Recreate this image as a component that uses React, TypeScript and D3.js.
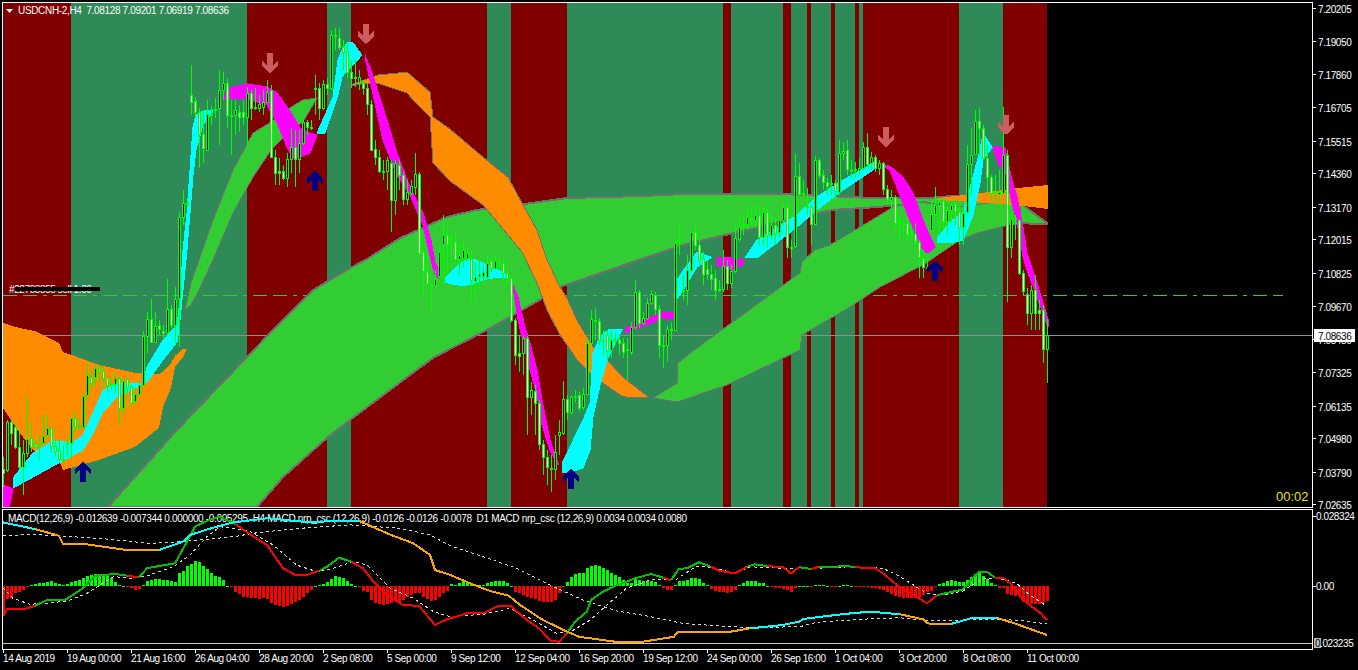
import React from "react";
import * as d3 from "d3";

// ---- price data: values in pips (0.0001) above 7.0000, one per 4h bar ----
const opens = [
389,385,555,537,467,396,445,498,477,477,
481,509,534,470,452,424,477,481,569,541,
537,651,714,714,743,736,711,686,690,711,
605,707,679,629,654,686,860,920,838,898,
877,870,955,898,994,1281,1327,1713,1691,1653,
1575,1518,1642,1660,1667,1730,1755,1642,1642,1653,
1653,1635,1720,1670,1667,1670,1688,1730,1493,1444,
1444,1419,1486,1529,1486,1543,1617,1599,1734,1737,
1667,1752,1737,1925,1914,1883,1865,1794,1776,1759,
1755,1737,1681,1522,1493,1444,1444,1472,1341,1465,
1429,1345,1366,1387,1433,1157,1086,1044,1040,1072,
1185,1217,1189,1192,1132,1136,1136,1132,1054,1072,
1072,1068,1125,1100,1122,1118,1083,1065,916,799,
799,852,644,665,622,477,431,389,389,509,
516,637,591,647,651,608,654,835,916,913,
845,863,810,845,849,835,810,803,891,1015,
906,923,976,1005,955,828,828,881,881,1196,
1022,1022,1093,1228,1182,1132,1097,1079,1065,1022,
1026,1107,1047,1090,1203,1252,1256,1277,1270,1288,
1210,1298,1217,1252,1228,1270,1316,1175,1178,1426,
1362,1320,1316,1256,1483,1429,1405,1398,1401,1369,
1507,1518,1444,1451,1447,1454,1529,1472,1493,1454,
1472,1380,1341,1352,1263,1256,1260,1221,1221,1192,
1136,1104,1235,1291,1323,1337,1267,1306,1327,1298,
1245,1298,1468,1504,1621,1596,1490,1422,1369,1362,
1366,1500,1175,1277,1270,1083,1008,941,1022,952,952,813];
const closes = [
375,555,516,467,396,445,495,467,467,481,
506,534,470,452,424,421,481,569,541,537,
647,721,693,746,736,711,686,690,711,605,
700,679,622,654,686,860,920,838,895,884,
870,955,898,991,1281,1330,1330,1688,1653,1575,
1525,1645,1645,1663,1730,1755,1642,1638,1660,1635,
1635,1720,1667,1667,1681,1688,1723,1493,1437,1437,
1419,1486,1529,1486,1543,1617,1599,1596,1737,1667,
1752,1737,1925,1922,1883,1865,1794,1773,1773,1776,
1737,1681,1518,1493,1444,1440,1483,1341,1472,1429,
1345,1369,1391,1433,1153,1090,1047,1040,1061,1157,
1217,1185,1192,1132,1146,1164,1153,1058,1068,1079,
1086,1118,1100,1125,1118,1083,1065,916,792,789,
852,644,668,622,477,431,396,392,449,520,
637,591,644,644,605,654,835,920,913,845,
842,810,845,849,835,803,814,891,1015,906,
923,976,1008,955,828,824,884,884,1189,1199,
1019,1093,1228,1182,1132,1079,1079,1061,1022,1026,
1107,1047,1090,1206,1245,1256,1281,1274,1288,1210,
1298,1217,1252,1224,1270,1316,1175,1171,1426,1362,
1366,1316,1256,1483,1429,1405,1391,1401,1373,1507,
1514,1451,1447,1447,1454,1529,1468,1493,1454,1472,
1380,1345,1352,1260,1260,1252,1221,1217,1196,1139,
1104,1100,1291,1323,1334,1267,1306,1323,1302,1245,
1295,1468,1500,1621,1596,1490,1422,1366,1366,1369,
1500,1175,1274,1274,1083,1019,941,1022,941,941,814,864];
const highs = [
431,562,562,544,527,491,644,555,491,509,
580,580,537,491,491,474,502,573,591,562,
654,764,739,757,757,750,711,711,729,714,
704,714,686,675,704,877,945,991,945,916,
898,1061,969,1033,1299,1376,1341,1819,1706,1667,
1660,1695,1674,1702,1801,1794,1773,1695,1695,1677,
1695,1741,1730,1737,1713,1730,1766,1748,1518,1490,
1465,1507,1596,1589,1589,1624,1624,1624,1783,1755,
1766,1773,1943,1950,1950,1907,1897,1837,1837,1801,
1766,1755,1695,1553,1518,1483,1493,1483,1483,1483,
1440,1412,1412,1507,1440,1164,1146,1047,1093,1182,
1288,1242,1217,1228,1182,1199,1171,1164,1122,1129,
1111,1146,1136,1146,1136,1136,1100,1072,923,863,
863,860,697,686,633,491,456,438,509,562,
700,651,651,668,661,675,852,952,959,923,
881,881,881,874,863,852,852,909,1058,1022,
945,994,1022,1015,969,863,898,909,1199,1252,
1075,1146,1235,1252,1199,1157,1129,1111,1093,1058,
1164,1129,1111,1252,1288,1277,1323,1306,1323,1323,
1313,1323,1288,1277,1288,1323,1323,1199,1504,1472,
1412,1383,1323,1497,1490,1447,1419,1429,1412,1553,
1546,1553,1483,1476,1490,1546,1578,1511,1500,1483,
1476,1394,1376,1359,1288,1270,1270,1252,1260,1199,
1164,1136,1334,1387,1352,1348,1323,1341,1341,1323,
1313,1536,1596,1660,1667,1607,1536,1429,1429,1447,
1670,1518,1288,1288,1274,1093,1029,1040,1075,987,969,920];
const lows = [
325,378,474,460,389,297,431,449,460,421,
474,502,445,431,417,413,431,421,520,527,
534,640,679,675,697,675,658,668,658,545,
580,651,608,622,651,683,799,835,835,863,
845,863,888,835,821,1252,1320,1642,1635,1454,
1472,1514,1607,1631,1536,1695,1596,1500,1571,1582,
1607,1529,1624,1660,1653,1642,1684,1490,1394,1394,
1412,1387,1437,1387,1437,1536,1571,1589,1642,1624,
1660,1713,1730,1872,1872,1801,1773,1737,1741,1730,
1713,1642,1514,1465,1437,1412,1376,1228,1288,1376,
1323,1323,1359,1359,1146,1005,1040,952,1033,1065,
1040,1075,1093,1111,1075,1100,1122,987,976,1022,
1040,1058,1086,1093,1093,1058,1040,909,757,732,
721,509,580,509,456,367,332,307,350,438,
509,562,580,626,591,598,651,828,845,828,
792,775,782,828,792,782,704,792,881,888,
898,916,969,934,782,746,768,845,877,1146,
987,969,1086,1164,1111,1040,1058,1022,987,1015,
1015,1022,1029,1083,1192,1217,1242,1252,1242,1182,
1182,1171,1199,1182,1206,1252,1136,1136,1171,1355,
1355,1288,1182,1252,1419,1376,1359,1359,1341,1359,
1483,1429,1419,1419,1429,1447,1454,1447,1440,1429,
1359,1323,1306,1242,1199,1217,1199,1199,1164,1065,
1065,1086,1228,1284,1217,1235,1217,1263,1252,1182,
1182,1291,1359,1500,1500,1483,1359,1341,1334,1323,
1359,980,1136,1199,1076,1005,898,881,881,881,764,692];

// ---- MACD histogram, units of 0.0001 ----
const histogram = [
-122,-53,-49,-28,-24,-16,-4,4,8,12,
12,16,20,12,8,4,8,16,20,24,
32,41,45,49,49,45,41,32,16,4,
2,-2,-8,-16,-12,4,20,24,28,28,
24,24,20,16,53,61,81,89,101,97,
81,69,53,41,37,24,2,-6,-24,-32,
-45,-45,-49,-49,-53,-49,-53,-69,-77,-81,
-85,-81,-73,-65,-57,-45,-28,-16,2,4,
8,16,28,41,37,32,20,8,2,-4,
-20,-24,-57,-69,-73,-77,-73,-69,-57,-65,
-57,-45,-37,-28,-28,-45,-53,-61,-57,-45,
-28,-20,8,6,12,20,12,12,4,4,
4,12,16,20,20,20,12,2,-24,-28,
-37,-45,-49,-53,-61,-65,-65,-65,-57,-28,
-4,16,37,49,53,53,73,81,85,81,
73,65,53,45,37,24,12,12,28,24,
20,20,20,16,4,-10,-16,-16,4,20,
20,24,32,32,28,12,4,-12,-20,-24,
-24,-28,-24,-16,4,12,20,20,20,12,
12,2,-6,-8,-8,-12,-16,-24,-8,2,
2,2,-2,4,6,6,2,-2,-4,2,
4,4,2,-4,-4,-4,-4,-8,-8,-12,
-16,-24,-32,-41,-45,-49,-49,-49,-49,-45,
-37,-24,-20,-4,8,12,20,24,20,16,
16,24,37,49,53,41,28,12,4,-8,
-8,-32,-37,-41,-41,-65,-73,-73,-73,-73,-69,-61];

// ---- MACD lines (bar index / value pairs, units of 0.0001) ----
const h4Idx = [0,1,5.5,8,11,15.5,18,20,23,28,31,34,36,39,43,46,48,51,54,57,58,62,66,70,73,76,79,81,84,87,90,93,96,100,104,108,111,112,116,120,124,127,128,131,134,137,139,141,143,146,147,150,153,158,162,165,167,169,171,174,177,179,183,186,188,191,195,197,199,202,204,208,210,213,218,220,224,229,231,233.5,240,242,244,246,248,250,252,255,259.5,261];
const h4Val = [-122,-93,-93,-80,-57,-57,-30,-9,41,49,42,35,72,81,92,180,241,264,281,261,252,207,166,72,45,45,61,78,115,99,72,11,-37,-77,-81,-158,-135,-131,-111,-111,-80,-81,-97,-138,-172,-223,-226,-192,-145,-104,-57,-23,0,31,49,34,24,69,72,96,78,62,51,78,88,81,76,51,76,69,78,76,83,76,72,51,-3,-50,-70,-37,-14,24,58,58,34,34,8,-57,-111,-138];
const h4RedRanges = [[0,8],[31,34],[58,79],[87,141],[165,167],[177,186],[191,199],[202,204],[213,233.5],[248,262]];
const d1Idx = [0,8,14,15,20.9,31,39,45,46.75,52.6,57.6,66,76.75,82.6,89,97,102.6,106.75,108,111.75,116.75,121.75,126.4,129.25,135,141,144,153,160,167.75,168.75,182,186.75,195,199,200,210,216.75,224.25,230,231,237,242,248.75,253,261];
const d1Val = [258,231,204,170,169,146,146,180,207,237,258,275,258,264,264,207,173,126,65,45,11,-20,-39,-77,-138,-185,-206,-226,-226,-206,-185,-185,-172,-158,-145,-134,-114,-104,-115,-135,-152,-154,-131,-131,-152,-199];
const d1CyanRanges = [[0,8],[39,89],[186.75,224.25],[237,248.75]];
const sigAIdx = [0,2.5,6.75,11,16,21,24.25,27.6,32.6,36.75,42.6,46.75,51,54.25,61.75,67.6,73.4,78.4,82.6,87.6,91,96.75,102.6,107.6,111.75,120,126.75,131.75,138.4,142.6,146.75,151,155.9,161.75,168.4,173.4,178.4,182.6,186.75,195,203.4,211.75,220,224.25,227.6,231,235,240,245,249,253.4,256.75,260.5];
const sigAVal = [-7,-50,-74,-70,-61,-30,4,38,31,45,78,126,200,241,221,166,85,58,72,99,85,-9,-50,-104,-124,-115,-91,-131,-192,-179,-138,-77,-9,24,28,81,72,51,78,72,72,78,72,38,4,-30,-37,-20,31,31,11,-37,-77];
const sigBIdx = [0,7.6,14.25,24.25,36.75,45,57.6,64.25,74.25,86.75,99.25,106.75,111.75,120,128.4,136.75,145,153.4,161.75,170,178.4,186.75,199.25,203.4,215.9,224.25,230,241,249.25,255,261];
const sigBVal = [204,210,203,193,173,180,200,218,234,248,234,207,164,119,72,4,-57,-101,-124,-152,-161,-169,-165,-147,-134,-129,-138,-138,-135,-141,-154];

// ---- background regime: bar index boundaries, starting with "down" (maroon) ----
const regimeEdges = [0,17,61,81,87,121,127,141,180,182,195,197,201,202,207,208,213,214,215,239,250,261];

// ---- moving-average clouds ----
const orangeAIdx = [0,4,8,14,15,24,33,39,40,42,43,45,46];
const orangeAUp = [906,888,877,835,803,757,729,725,732,764,789,814,814];
const orangeALo = [605,520,449,421,385,421,467,534,608,675,750,785,814];
const orangeBIdx = [85.25,91,93.5,101,102.5,106.75,107.5,111.75,120,126.25,129.75,133.5,136,139.25,141,143.5,147.5,151.75,155,161.75];
const orangeBUp = [1741,1769,1783,1794,1776,1723,1635,1592,1493,1422,1330,1235,1129,1033,994,916,821,764,714,640];
const orangeBLo = [1741,1755,1755,1720,1695,1635,1472,1408,1323,1217,1157,1047,952,863,828,775,718,675,644,640];
const orangeCIdx = [233.5,242.5,253.5,261.25];
const orangeCUp = [1348,1362,1383,1394];
const orangeCLo = [1341,1334,1323,1309];
const greenAIdx = [45.5,47,49,52.5,57.5,62.5,67,72,75,78.5];
const greenAUp = [952,1047,1129,1270,1447,1578,1617,1670,1695,1702];
const greenALo = [952,969,1022,1129,1295,1422,1518,1589,1617,1702];
const greenBUpIdx = [26.25,43.5,61,67.5,77.5,86.75,91,99.25,103.75,111,118.5,130.5,141,159.25,170,195,217.5,231,241,253.5,254.25,261];
const greenBUp = [254,527,785,881,1022,1100,1132,1206,1235,1281,1306,1327,1348,1355,1362,1362,1348,1348,1359,1341,1330,1260];
const greenBLoIdx = [63.5,70,81.25,86.75,107.5,121,135,139.25,159,165,170,186,199.25,207.5,218.5,224.25,230.5,251,261];
const greenBLo = [254,360,502,562,782,881,994,1033,1129,1157,1182,1235,1281,1306,1316,1323,1334,1260,1256];
const greenCUpIdx = [162.5,168.5,168.75,171.75,199.25,199.75,203,206.75,218.5,222.5,228.75,239.25,251.25,254.25];
const greenCUp = [640,693,764,799,1083,1122,1164,1182,1281,1316,1334,1316,1341,1330];
const greenCLoIdx = [162.5,168.5,181,199.25,199.75,211.75,219.25,230,239.25,243.5,251.25,254.25];
const greenCLo = [640,626,686,810,863,962,1033,1111,1199,1224,1252,1256];

// ---- trend ribbon segments ----
const ribbons = [
  { c: "m", i: [0,1.5,2.5], u: [332,325,318], l: [254,254,314] },
  { c: "c", i: [2.5,7.5,12.5,17.5,20,22.5,25,28.5,35,36,40,43.5,44.25,45,46,46.75,47.5,48.25,50,52.25],
    u: [357,445,488,481,509,587,668,693,693,750,845,898,987,1164,1295,1447,1599,1642,1656,1660],
    l: [321,360,399,438,456,516,591,644,690,697,775,838,916,1022,1164,1295,1429,1518,1607,1649] },
  { c: "m", i: [54.75,56.75,61,66,68.5,71,72.5,74.25,76.75,78.5],
    u: [1702,1737,1752,1741,1720,1670,1638,1596,1578,1571],
    l: [1702,1702,1699,1677,1614,1529,1490,1493,1507,1571] },
  { c: "c", i: [78.5,80.5,82.5,83.75,84.75,86,87.5,89.75],
    u: [1578,1642,1706,1837,1872,1897,1897,1854],
    l: [1575,1578,1660,1713,1776,1801,1819,1854] },
  { c: "m", i: [90.5,92,95,98.5,101.75,105,107,108,109],
    u: [1854,1801,1670,1507,1387,1295,1199,1122,1093],
    l: [1847,1748,1553,1429,1359,1252,1129,1075,1065] },
  { c: "c", i: [110.5,112,115,117.5,120,122.5,126],
    u: [1065,1086,1125,1132,1118,1100,1079],
    l: [1051,1044,1037,1044,1058,1065,1068] },
  { c: "m", i: [127.5,128.75,130.5,131.75,133.5,134.75,136.75,138.75],
    u: [1040,998,891,835,739,633,491,410],
    l: [1033,916,810,739,651,545,456,403] },
  { c: "c", i: [139.75,141.75,145,146.75,147.5,149.25,151.25,154.75],
    u: [410,467,562,622,799,856,881,884],
    l: [375,378,392,456,573,686,782,881] },
  { c: "m", i: [155.5,159,165,167.5], u: [888,909,945,941], l: [870,888,923,923] },
  { c: "c", i: [168.5,170.5,173.5,177], u: [1058,1100,1157,1139], l: [991,1033,1104,1136] },
  { c: "m", i: [178.5,181.75,185], u: [1136,1136,1129], l: [1111,1093,1111] },
  { c: "c", i: [185.5,188.5,198.5,203.5,209.25,217.5], u: [1136,1199,1288,1352,1405,1472], l: [1136,1136,1245,1306,1369,1447] },
  { c: "m", i: [220,221.75,225,227.5,230,231.25,233], u: [1465,1461,1422,1366,1270,1228,1178], l: [1461,1447,1330,1242,1164,1153,1175] },
  { c: "c", i: [233.5,236.75,240,242.5,244.25,245,247.25], u: [1206,1263,1298,1422,1518,1578,1529], l: [1189,1189,1199,1288,1401,1483,1525] },
  { c: "m", i: [247.5,249,250.5,252.25,253.5,255,256,258.5,261.25], u: [1529,1529,1525,1412,1352,1245,1153,1047,920], l: [1525,1465,1447,1330,1263,1139,1093,998,891] },
];

// ---- signal arrows ----
const downArrowIdx = [67,91,221,251];
const downArrowPrice = [1794,1897,1532,1575];
const upArrowIdx = [20,78,142,233];
const upArrowPrice = [410,1440,385,1122];

// ---- level lines & labels ----
const bidLevel = 864;
const orderLevel = 1005;
const priceTicks = ["7.20205","7.19050","7.17860","7.16705","7.15515","7.14360","7.13170","7.12015","7.10825","7.09670","7.08480","7.07325","7.06135","7.04980","7.03790","7.02635"];
const timeLabels = ["14 Aug 2019","19 Aug 00:00","21 Aug 16:00","26 Aug 04:00","28 Aug 20:00","2 Sep 08:00","5 Sep 00:00","9 Sep 12:00","12 Sep 04:00","16 Sep 20:00","19 Sep 12:00","24 Sep 00:00","26 Sep 16:00","1 Oct 04:00","3 Oct 20:00","8 Oct 08:00","11 Oct 00:00"];
const titleMain = "USDCNH-2,H4  7.08128 7.09201 7.06919 7.08636";
const titleMacd = "MACD(12,26,9) -0.012639 -0.007344 0.000000 -0.005295  H4 MACD nrp_csc (12,26,9) -0.0126 -0.0126 -0.0078  D1 MACD nrp_csc (12,26,9) 0.0034 0.0034 0.0080";

const MAROON = "#800000", SEA = "#2E8B57", ORANGE = "#FF8C00", LIMEG = "#32CD32", GRAYEDGE = "#707070";
const FONT = "'Liberation Sans', Arial, sans-serif";

const xBar = d3.scaleLinear().domain([0, 261]).range([3, 1047]);
const yP = d3.scaleLinear().domain([2049, 279]).range([0, 500]);
const yM = d3.scaleLinear().domain([0, 100]).range([586, 561.35]);

const txt = { fontFamily: FONT, fontSize: 10, letterSpacing: -0.4, fill: "#fff", style: { whiteSpace: "pre" as const } };

function band(ui: number[], u: number[], li: number[], l: number[]) {
  const pts: [number, number][] = [
    ...ui.map((v, k) => [xBar(v), yP(u[k])] as [number, number]),
    ...li.map((v, k) => [xBar(v), yP(l[k])] as [number, number]).reverse(),
  ];
  return d3.line()(pts) + "Z";
}

function colouredRuns(idx: number[], val: number[], ranges: number[][], on: string, off: string) {
  const inRange = (m: number) => ranges.some(([a, b]) => m >= a && m <= b);
  const runs: { color: string; d: string }[] = [];
  const line = d3.line<[number, number]>().x((p) => xBar(p[0])).y((p) => yM(p[1]));
  let cur: [number, number][] = [[idx[0], val[0]]];
  let col = inRange((idx[0] + idx[1]) / 2);
  for (let k = 1; k < idx.length; k++) {
    const c = k < idx.length - 1 ? inRange((idx[k] + idx[k + 1]) / 2) : col;
    cur.push([idx[k], val[k]]);
    if (c !== col || k === idx.length - 1) {
      runs.push({ color: col ? on : off, d: line(cur) as string });
      cur = [[idx[k], val[k]]];
      col = c;
    }
  }
  return runs;
}

const dLine = (idx: number[], val: number[]) =>
  d3.line<number>().x((v) => xBar(v)).y((_, k) => yM(val[k]))(idx) as string;

const cl = (v: number) => Math.round(v);

export default function App() {
  const h4Runs = colouredRuns(h4Idx, h4Val, h4RedRanges, "#FF0000", "#00C000");
  const d1Runs = colouredRuns(d1Idx, d1Val, d1CyanRanges, "#00FFFF", "#FFA500");
  const bidY = cl(yP(bidLevel));
  const orderY = cl(yP(orderLevel));
  return (
    <div style={{ position: "fixed", left: 0, top: 0, width: 1358, height: 670, background: "#000", overflow: "hidden" }}>
      <svg width={1358} height={670} style={{ display: "block" }}>
        <defs>
          <clipPath id="mainClip"><rect x={3} y={3} width={1309} height={504} /></clipPath>
          <clipPath id="subClip"><rect x={3} y={510} width={1309} height={139} /></clipPath>
        </defs>
        <rect width={1358} height={670} fill="#000" />
        <g clipPath="url(#mainClip)" shapeRendering="crispEdges">
          {regimeEdges.slice(0, -1).map((e, k) => (
            <rect key={k} x={xBar(e)} y={3} width={xBar(regimeEdges[k + 1]) - xBar(e)} height={504} fill={k % 2 === 0 ? MAROON : SEA} />
          ))}
          <line x1={3} x2={1312} y1={bidY + 0.5} y2={bidY + 0.5} stroke="#8f8f8f" />
          <line x1={3} x2={1283} y1={orderY + 0.5} y2={orderY + 0.5} stroke={LIMEG} strokeWidth={1.2} strokeDasharray="14 6 14 6 4 6" />
          <path d={band(greenAIdx, greenAUp, greenAIdx, greenALo)} fill={LIMEG} stroke={GRAYEDGE} strokeWidth={1} />
          <path d={band(greenBUpIdx, greenBUp, greenBLoIdx, greenBLo)} fill={LIMEG} stroke={GRAYEDGE} strokeWidth={2} />
          <path d={band(greenCUpIdx, greenCUp, greenCLoIdx, greenCLo)} fill={LIMEG} stroke={GRAYEDGE} strokeWidth={1} />
          <path d={band(orangeAIdx, orangeAUp, orangeAIdx, orangeALo)} fill={ORANGE} />
          <path d={band(orangeBIdx, orangeBUp, orangeBIdx, orangeBLo)} fill={ORANGE} stroke={GRAYEDGE} strokeWidth={1} />
          <path d={band(orangeCIdx, orangeCUp, orangeCIdx, orangeCLo)} fill={ORANGE} />
          {ribbons.map((r, k) => (
            <path key={k} d={band(r.i, r.u, r.i, r.l)} fill={r.c === "c" ? "#00FFFF" : "#FF00FF"} stroke={r.c === "c" ? "#00FFFF" : "#FF00FF"} strokeWidth={1} />
          ))}
          {opens.map((o, k) => {
            const x = xBar(k);
            const top = cl(yP(Math.max(o, closes[k])));
            const bot = cl(yP(Math.min(o, closes[k])));
            const up = closes[k] > o;
            const h = Math.max(bot - top, 1);
            return (
              <g key={k}>
                <rect x={x} y={cl(yP(highs[k]))} width={1} height={Math.max(cl(yP(lows[k])) - cl(yP(highs[k])), 1)} fill="#00FF00" />
                <rect x={x - 1} y={top} width={3} height={h + 1} fill="#00FF00" />
                {h > 1 && <rect x={x} y={top + 1} width={1} height={h - 1} fill={up ? "#000" : "#FFFFE8"} />}
              </g>
            );
          })}
          {downArrowIdx.map((b, k) => (
            <path key={k} transform={`translate(${xBar(b) - 1},${yP(downArrowPrice[k])})`}
              d="M-3,-19H3V-7L8,-12V-6L0,1L-8,-6V-12L-3,-7Z" fill="#CD5C5C" />
          ))}
          {upArrowIdx.map((b, k) => (
            <path key={k} transform={`translate(${xBar(b)},${yP(upArrowPrice[k])})`}
              d="M-3,19H3V7L8,12V6L0,-1L-8,6V12L-3,7Z" fill="#000080" />
          ))}
        </g>
        <text x={9} y={293} {...txt} fill="#fff">#22783855 sell 1.00</text>
        <rect x={15} y={287} width={85} height={4} fill="#000" />
        <path d="M6,9H13L9.5,13Z" fill="#fff" />
        <text x={18} y={14} {...txt} letterSpacing={0} textLength={211} lengthAdjust="spacing">{titleMain}</text>
        <text x={1276} y={501} fontFamily={FONT} fontSize={13} fill="#E6E600">00:02</text>

        {/* MACD panel */}
        <g clipPath="url(#subClip)">
          <text x={8} y={522} {...txt} letterSpacing={0} textLength={679} lengthAdjust="spacing">{titleMacd}</text>
          <line x1={3} x2={1312} y1={643.5} y2={643.5} stroke="#C8C8C8" />
          <g shapeRendering="crispEdges">
            {histogram.map((v, k) => {
              const y0 = cl(yM(0)), y1 = cl(yM(v));
              return <rect key={k} x={xBar(k) - 1} y={Math.min(y0, y1)} width={3} height={Math.max(Math.abs(y1 - y0), 1)} fill={v >= 0 ? "#00FF00" : "#FF0000"} />;
            })}
          </g>
          <path d={dLine(sigAIdx, sigAVal)} fill="none" stroke="#d8d8d8" strokeWidth={1} strokeDasharray="3 3" shapeRendering="crispEdges" />
          <path d={dLine(sigBIdx, sigBVal)} fill="none" stroke="#d8d8d8" strokeWidth={1} strokeDasharray="3 3" shapeRendering="crispEdges" />
          {h4Runs.map((r, k) => <path key={k} d={r.d} fill="none" stroke={r.color} strokeWidth={2} strokeLinejoin="round" shapeRendering="crispEdges" />)}
          {d1Runs.map((r, k) => <path key={k} d={r.d} fill="none" stroke={r.color} strokeWidth={2} strokeLinejoin="round" shapeRendering="crispEdges" />)}
        </g>

        {/* frames */}
        <g shapeRendering="crispEdges" fill="none" stroke="#fff">
          <path d="M2.5,507.5V2.5H1312.5V507.5H2.5" />
          <path d="M2.5,649.5V509.5H1312.5V649.5H2.5" />
          {priceTicks.map((p, k) => {
            const y = cl(yP(+p.slice(2) / 10));
            return <line key={k} x1={1313} x2={1316} y1={y + 0.5} y2={y + 0.5} />;
          })}
          <line x1={1313} x2={1316} y1={586.5} y2={586.5} />
          <line x1={1313} x2={1316} y1={516.5} y2={516.5} />
          {timeLabels.map((_, k) => <line key={k} x1={xBar(16 * k) + 0.5} x2={xBar(16 * k) + 0.5} y1={650} y2={653} />)}
        </g>

        {/* price axis labels */}
        {priceTicks.map((p) => (
          <text key={p} x={1318} y={yP(+p.slice(2) / 10) + 5} {...txt}>{p}</text>
        ))}
        <rect x={1314} y={329} width={41} height={13} fill="#fff" />
        <text x={1318} y={340} {...txt} fill="#000">7.08636</text>

        {/* MACD axis labels */}
        <text x={1316} y={520} {...txt}>0.028324</text>
        <text x={1316} y={590} {...txt}>0.00</text>
        <rect x={1314} y={638} width={7} height={10} fill="#BDBDBD" />
        <text x={1315} y={647} {...txt} fill="#000">0</text>
        <text x={1320} y={647} {...txt}>.023235</text>

        {/* time axis labels */}
        {timeLabels.map((t, k) => (
          <text key={t} x={xBar(16 * k)} y={662} {...txt}>{t}</text>
        ))}
      </svg>
    </div>
  );
}
